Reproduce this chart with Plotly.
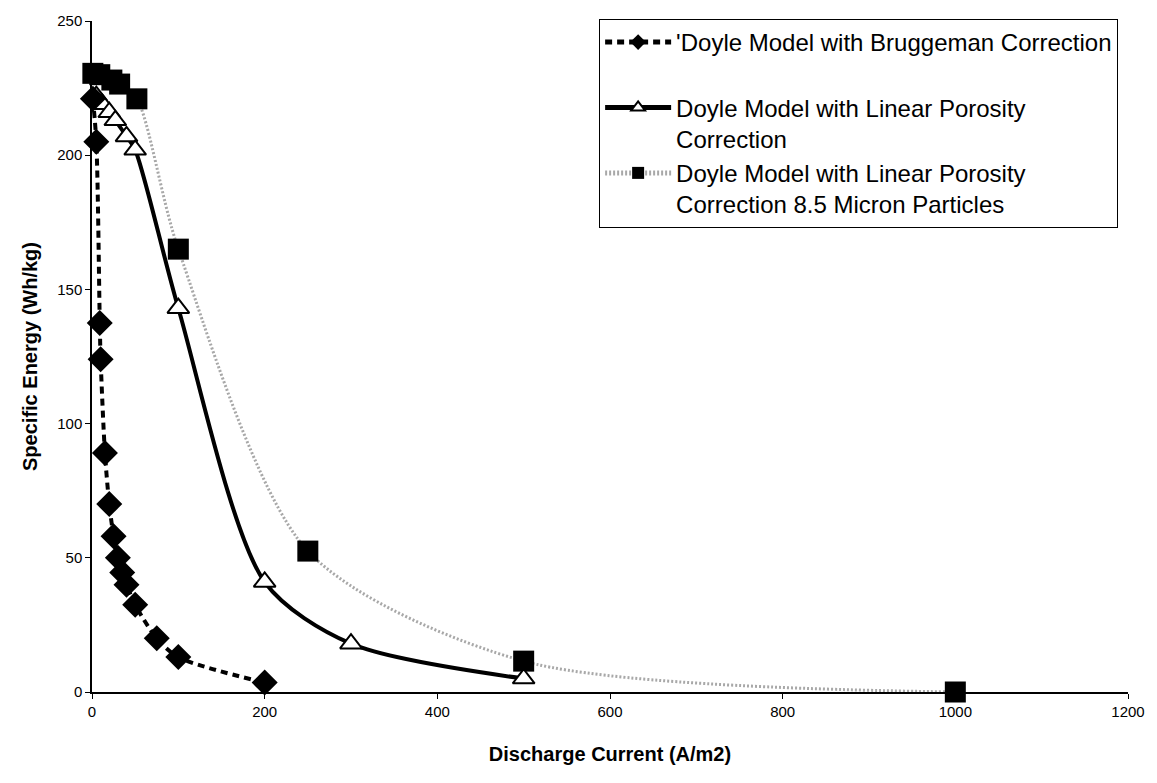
import plotly.graph_objects as go

# Doyle Model with Bruggeman Correction
brug_x = [1, 5, 9, 10, 15, 20, 25, 30, 35, 40, 50, 75, 100, 200]
brug_y = [221, 205, 137.5, 124, 89, 70, 58, 50, 44.5, 40, 32.5, 20, 13, 3.5]

# Doyle Model with Linear Porosity Correction
lin_x = [5, 12, 20, 27, 40, 50, 100, 200, 300, 500]
lin_y = [222, 219, 216, 213, 207, 202, 143, 41, 18, 5]

# Doyle Model with Linear Porosity Correction 8.5 Micron Particles
mic_x = [1, 9, 23, 32, 52, 100, 250, 500, 1000]
mic_y = [230.5, 230, 228, 226.5, 221, 165, 52.5, 11.5, 0]

names = [
    "'Doyle Model with Bruggeman Correction<br>\u00a0",
    "Doyle Model with Linear Porosity<br>Correction",
    "Doyle Model with Linear Porosity<br>Correction 8.5 Micron Particles",
]

x_ticks = [0, 200, 400, 600, 800, 1000, 1200]
y_ticks = [0, 50, 100, 150, 200, 250]

fig = go.Figure()
fig.add_trace(go.Scatter(
    x=mic_x, y=mic_y, name=names[2], mode="lines+markers",
    line=dict(color="#a8a8a8", width=3, dash="2px,2px", shape="spline", smoothing=0.8),
    marker=dict(symbol="square", size=21, color="black"),
    cliponaxis=False, legendrank=3,
))
fig.add_trace(go.Scatter(
    x=lin_x, y=lin_y, name=names[1], mode="lines+markers",
    line=dict(color="black", width=4, shape="spline", smoothing=0.8),
    marker=dict(symbol="triangle-up", size=19, color="white", line=dict(color="black", width=2)),
    cliponaxis=False, legendrank=2,
))
fig.add_trace(go.Scatter(
    x=brug_x, y=brug_y, name=names[0], mode="lines+markers",
    line=dict(color="black", width=4, dash="7px,5px", shape="spline", smoothing=0.8),
    marker=dict(symbol="diamond", size=20, color="black"),
    cliponaxis=False, legendrank=1,
))

fig.update_layout(
    width=1157, height=783,
    margin=dict(l=92, r=26, t=14, b=91),
    plot_bgcolor="white", paper_bgcolor="white",
    font=dict(family="Liberation Sans, Arial", color="black"),
    legend=dict(
        x=0.4895, y=1.003, xanchor="left", yanchor="top",
        bordercolor="black", borderwidth=1, bgcolor="white",
        font=dict(size=24), itemwidth=66, tracegroupgap=6,
        itemsizing="constant", valign="top",
    ),
    xaxis=dict(
        range=[0, 1200], tickvals=x_ticks, showgrid=False, zeroline=False,
        showline=True, linecolor="black", linewidth=1.5,
        ticks="outside", ticklen=5, tickcolor="black",
        tickfont=dict(size=15),
        title=dict(text="<b>Discharge Current (A/m2)</b>", font=dict(size=20), standoff=28),
    ),
    yaxis=dict(
        range=[0, 250], tickvals=y_ticks, showgrid=False, zeroline=False,
        showline=True, linecolor="black", linewidth=1.5,
        ticks="outside", ticklen=5, tickcolor="black",
        tickfont=dict(size=15),
        title=dict(text="<b>Specific Energy (Wh/kg)</b>", font=dict(size=20), standoff=14),
    ),
)

fig.write_html("out.html")
